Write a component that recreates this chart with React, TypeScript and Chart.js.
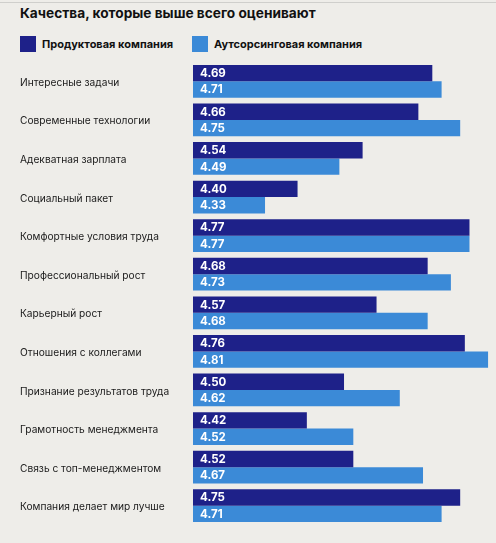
import React, { useEffect, useRef } from 'react';
import { Chart, registerables } from 'chart.js';

Chart.register(...registerables);

// данные с картинки
const categories = [
  'Интересные задачи',
  'Современные технологии',
  'Адекватная зарплата',
  'Социальный пакет',
  'Комфортные условия труда',
  'Профессиональный рост',
  'Карьерный рост',
  'Отношения с коллегами',
  'Признание результатов труда',
  'Грамотность менеджмента',
  'Связь с топ-менеджментом',
  'Компания делает мир лучше',
];
const productValues = [4.69, 4.66, 4.54, 4.4, 4.77, 4.68, 4.57, 4.76, 4.5, 4.42, 4.52, 4.75];
const outsourceValues = [4.71, 4.75, 4.49, 4.33, 4.77, 4.73, 4.68, 4.81, 4.62, 4.52, 4.67, 4.71];
const seriesNames = ['Продуктовая компания', 'Аутсорсинговая компания'];

const NAVY = '#1e2189';
const BLUE = '#3b8ad7';
const BG = '#eeede9';
const FONT = 'Inter, "Liberation Sans", sans-serif';

// белые подписи внутри столбцов
const valueLabels = {
  id: 'valueLabels',
  afterDatasetsDraw(chart: Chart) {
    const { ctx, chartArea } = chart;
    ctx.save();
    ctx.fillStyle = '#ffffff';
    ctx.font = `bold 11.5px ${FONT}`;
    ctx.textBaseline = 'middle';
    ctx.textAlign = 'left';
    chart.data.datasets.forEach((ds, i) => {
      const meta = chart.getDatasetMeta(i);
      meta.data.forEach((bar: any, j) => {
        const v = ds.data[j] as number;
        ctx.fillText(v.toFixed(2), chartArea.left + 7, bar.y + 0.5);
      });
    });
    ctx.restore();
  },
};

const App: React.FC = () => {
  const canvasRef = useRef<HTMLCanvasElement>(null);

  useEffect(() => {
    document.body.style.margin = '0';
    const chart = new Chart(canvasRef.current!, {
      type: 'bar',
      data: {
        labels: categories,
        datasets: [
          {
            label: seriesNames[0],
            data: productValues,
            backgroundColor: NAVY,
            barPercentage: 1,
            categoryPercentage: 0.85,
          },
          {
            label: seriesNames[1],
            data: outsourceValues,
            backgroundColor: BLUE,
            barPercentage: 1,
            categoryPercentage: 0.85,
          },
        ],
      },
      options: {
        indexAxis: 'y',
        responsive: false,
        animation: false,
        devicePixelRatio: 1,
        layout: { padding: { left: 20, right: 7, top: 62, bottom: 18 } },
        plugins: { legend: { display: false }, tooltip: { enabled: false } },
        scales: {
          x: { display: false, min: 4.175, max: 4.812 },
          y: {
            grid: { display: false },
            border: { display: false },
            afterFit: (scale: any) => {
              scale.width = 173;
            },
            ticks: {
              crossAlign: 'far',
              padding: 0,
              labelOffset: 1.5,
              color: '#1a1a1a',
              font: { family: FONT, size: 10.2 },
            },
          },
        },
      },
      plugins: [valueLabels],
    });
    return () => chart.destroy();
  }, []);

  const legendItem = (color: string, text: string, left: number) => (
    <div style={{ position: 'absolute', left, top: 36, display: 'flex', alignItems: 'center' }}>
      <div style={{ width: 16, height: 16, background: color }} />
      <span style={{ marginLeft: 6, fontFamily: FONT, fontWeight: 700, fontSize: 11, color: '#111' }}>{text}</span>
    </div>
  );

  return (
    <div style={{ position: 'relative', width: 496, height: 543, background: BG, overflow: 'hidden' }}>
      <div style={{ position: 'absolute', left: 0, right: 0, top: 2, height: 1, background: '#cfcfcc' }} />
      <div
        style={{
          position: 'absolute',
          left: 20,
          top: 5,
          fontFamily: FONT,
          fontWeight: 700,
          fontSize: 13.7,
          color: '#111',
        }}
      >
        Качества, которые выше всего оценивают
      </div>
      {legendItem(NAVY, seriesNames[0], 20)}
      {legendItem(BLUE, seriesNames[1], 192)}
      <canvas ref={canvasRef} width={496} height={543} style={{ position: 'absolute', left: 0, top: 0 }} />
    </div>
  );
};

export default App;
